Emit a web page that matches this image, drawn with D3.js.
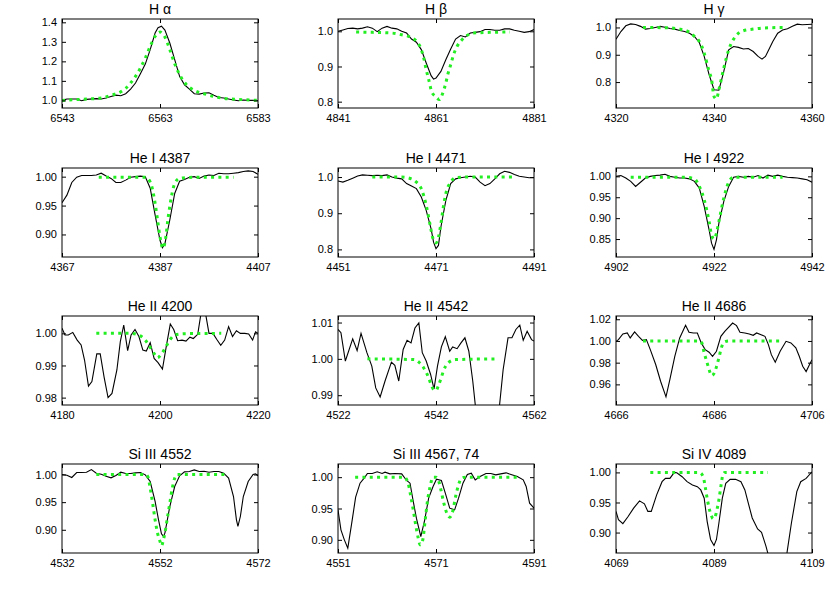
<!DOCTYPE html>
<html>
<head>
<meta charset="utf-8">
<script src="https://cdn.jsdelivr.net/npm/d3@7"></script>
<style>
body { margin: 0; background: #fff; }
text { font-family: "Liberation Sans", Arial, Helvetica, sans-serif; }
</style>
</head>
<body>
<div id="chart"></div>
<script>
// Panel titles and line centres (x axis = centre +/- 20 A)
var titles = ["H \u03b1", "H \u03b2", "H \u03b3",
              "He I 4387", "He I 4471", "He I 4922",
              "He II 4200", "He II 4542", "He II 4686",
              "Si III 4552", "Si III 4567, 74", "Si IV 4089"];
var centers = [6563, 4861, 4340, 4387, 4471, 4922, 4200, 4542, 4686, 4552, 4571, 4089];

// y ranges and tick values
var yDomains = [[0.961, 1.417], [0.782, 1.035], [0.705, 1.031],
                [0.861, 1.015], [0.779, 1.025], [0.807, 1.020],
                [0.9777, 1.0054], [0.9873, 1.0118], [0.941, 1.023],
                [0.858, 1.019], [0.879, 1.021], [0.866, 1.014]];
var yTicks = [[1.0, 1.1, 1.2, 1.3, 1.4], [0.8, 0.9, 1.0], [0.8, 0.9, 1.0],
              [0.90, 0.95, 1.00], [0.8, 0.9, 1.0], [0.85, 0.90, 0.95, 1.00],
              [0.98, 0.99, 1.00], [0.99, 1.00, 1.01], [0.96, 0.98, 1.00, 1.02],
              [0.90, 0.95, 1.00], [0.90, 0.95, 1.00], [0.90, 0.95, 1.00]];
var yFormats = [".1f", ".1f", ".1f", ".2f", ".1f", ".2f", ".2f", ".2f", ".2f", ".2f", ".2f", ".2f"];

// observed spectra [wavelength, normalised flux]
var haObs = [[6543,1.0],[6544,1.007],[6546,1.007],[6547,0.998],[6548,1.005],[6550,1.009],[6551,1.007],[6552,1.012],[6553,1.02],[6554,1.027],[6555,1.024],[6556,1.034],[6557,1.058],[6558,1.089],[6559,1.137],[6560,1.186],[6561,1.26],[6562,1.345],[6562.6,1.372],[6563.3,1.38],[6564,1.36],[6565,1.294],[6566,1.209],[6567,1.123],[6568,1.08],[6569,1.058],[6570,1.034],[6571,1.032],[6572,1.038],[6573,1.039],[6574,1.026],[6575,1.015],[6576,1.012],[6577,1.007],[6578,1.002],[6579,0.998],[6580,1.002],[6581,1.0],[6582,1.0],[6583,0.998]];
var hbObs = [[4841,1.0],[4842,1.004],[4843,1.008],[4844,1.009],[4845,1.007],[4846,1.009],[4847,1.013],[4848,1.009],[4849,0.999],[4850,1.009],[4851,1.014],[4852,1.009],[4853,1.007],[4854,1.0],[4855,0.995],[4856,0.978],[4857,0.969],[4858,0.948],[4859,0.91],[4860,0.874],[4860.5,0.864],[4861,0.867],[4862,0.886],[4863,0.919],[4864,0.95],[4865,0.978],[4866,0.988],[4867,0.984],[4868,0.995],[4869,0.997],[4870,0.999],[4871,1.005],[4872,1.005],[4873,1.003],[4874,1.003],[4875,1.007],[4876,1.007],[4877,1.003],[4878,1.0],[4879,0.997],[4880,0.999],[4881,1.005]];
var hgObs = [[4320,0.957],[4321,0.985],[4322,1.006],[4323,1.013],[4324,1.011],[4325,1.004],[4326,0.994],[4327,0.996],[4328,1.0],[4329,1.004],[4330,1.001],[4331,0.996],[4332,0.994],[4333,0.989],[4334,0.985],[4335,0.979],[4336,0.967],[4337,0.945],[4338,0.894],[4339,0.827],[4340,0.772],[4341,0.77],[4342,0.839],[4343,0.918],[4344,0.93],[4345,0.927],[4346,0.921],[4347,0.923],[4348,0.912],[4349,0.894],[4349.8,0.884],[4350.5,0.894],[4351,0.912],[4352,0.949],[4353,0.979],[4354,0.991],[4355,0.995],[4356,1.004],[4357,1.012],[4358,1.01],[4359,1.011],[4360,1.012]];
var he4387Obs = [[4367,0.955],[4368,0.968],[4369,0.99],[4370,0.999],[4371,1.002],[4372,1.002],[4373,1.002],[4374,1.003],[4375,1.006],[4376,1.001],[4377,0.997],[4378,0.99],[4379,0.99],[4380,0.994],[4381,0.999],[4382,1.0],[4383,1.001],[4384,1.0],[4385,0.98],[4386,0.934],[4387,0.89],[4387.5,0.877],[4388,0.884],[4389,0.925],[4390,0.971],[4391,0.992],[4392,0.995],[4393,0.999],[4394,1.0],[4395,0.997],[4396,1.001],[4397,1.003],[4398,1.002],[4399,1.006],[4400,1.005],[4401,1.005],[4402,1.006],[4403,1.007],[4404,1.009],[4405,1.01],[4406,1.009],[4407,1.004]];
var he4471Obs = [[4451,0.989],[4452,0.986],[4453,0.991],[4454,0.997],[4455,1.003],[4456,1.006],[4457,1.005],[4458,1.004],[4459,1.005],[4460,1.004],[4461,1.006],[4462,1.0],[4463,0.997],[4464,0.995],[4465,0.982],[4466,0.975],[4467,0.968],[4468,0.945],[4469,0.908],[4470,0.857],[4470.5,0.82],[4471,0.802],[4471.5,0.811],[4472,0.862],[4473,0.935],[4474,0.982],[4475,0.995],[4476,0.998],[4477,1.0],[4478,1.002],[4479,1.0],[4480,0.986],[4481,0.976],[4482,0.982],[4483,0.995],[4484,1.009],[4485,1.016],[4486,1.013],[4487,1.007],[4488,1.002],[4489,1.0],[4490,0.998],[4491,0.998]];
var he4922Obs = [[4902,1.0],[4903,1.002],[4904,0.996],[4905,0.988],[4906,0.976],[4907,0.986],[4908,0.996],[4909,1.0],[4910,1.002],[4911,1.003],[4912,1.005],[4913,1.0],[4914,0.998],[4915,0.996],[4916,0.996],[4917,0.994],[4918,0.988],[4919,0.972],[4920,0.928],[4921,0.872],[4921.5,0.84],[4922,0.825],[4922.5,0.848],[4923,0.888],[4924,0.94],[4925,0.976],[4926,0.998],[4927,1.0],[4928,0.998],[4929,1.0],[4930,0.998],[4931,1.002],[4932,0.996],[4933,1.003],[4934,1.0],[4935,1.003],[4936,1.0],[4937,0.998],[4938,0.997],[4939,0.996],[4940,0.994],[4941,0.992],[4942,0.986]];
var he4200Obs = [[4180,1.0016],[4180.6,0.9995],[4181.3,0.9995],[4182.2,1.0003],[4183.1,0.9979],[4183.9,0.9964],[4184.6,0.9917],[4185.4,0.9836],[4186.1,0.985],[4187.1,0.9936],[4187.8,0.9936],[4188.6,0.9863],[4189.4,0.98],[4190.2,0.9813],[4191.2,0.9886],[4191.9,0.9974],[4192.6,1.0026],[4193.4,0.9946],[4194.1,0.9995],[4194.9,1.0012],[4195.7,0.999],[4196.5,0.9948],[4197.2,0.9945],[4198,0.9971],[4198.8,0.9922],[4199.6,0.9909],[4200.5,0.9889],[4201.3,0.9961],[4202.1,1.0029],[4202.8,1.0012],[4203.6,0.9977],[4204.5,0.9979],[4205.3,0.9976],[4206.1,0.9988],[4206.8,0.9984],[4207.7,0.9997],[4208.5,1.0075],[4209.2,1.007],[4210,1.0],[4210.8,1.0],[4211.6,0.9981],[4212.4,0.9963],[4213.2,0.9979],[4214,1.0021],[4214.8,0.999],[4215.6,1.0008],[4216.4,1.0],[4217.3,1.0],[4218.1,0.9998],[4218.9,0.9979],[4219.5,1.0005],[4220,1.0]];
var he4542Obs = [[4522,1.0081],[4522.6,1.0072],[4523.5,0.9994],[4525,1.0055],[4525.9,1.0023],[4526.7,1.007],[4527.9,1.0017],[4528.9,0.998],[4529.7,0.992],[4530.6,0.9895],[4531.6,0.9939],[4532.9,0.9991],[4533.6,0.9982],[4534.4,0.9939],[4535.3,1.0026],[4536.1,1.0051],[4536.9,1.0044],[4537.7,1.0085],[4538.5,1.0099],[4539.2,1.0017],[4540,0.9994],[4540.9,0.9957],[4541.6,0.9917],[4542.3,0.998],[4543.1,1.0033],[4543.9,1.0061],[4544.8,1.0021],[4545.4,1.0033],[4546.3,1.0028],[4547.1,1.0044],[4547.9,1.0058],[4548.7,1.0021],[4549.5,0.9939],[4550.2,0.985],[4551,0.975],[4552.5,0.965],[4554,0.975],[4554.8,0.985],[4555.7,0.997],[4556.7,1.0058],[4557.5,1.0058],[4558.3,1.0081],[4559.1,1.0093],[4559.8,1.0051],[4560.6,1.0076],[4561.5,1.0053],[4562,1.0049]];
var he4686Obs = [[4666,0.9997],[4666.5,1.0012],[4667.4,1.0064],[4668.3,1.0074],[4668.9,1.0028],[4669.8,1.0083],[4670.6,1.0043],[4671.4,1.0006],[4672.2,1.0012],[4673,0.992],[4674.1,0.9783],[4675.1,0.9629],[4676.2,0.9485],[4677,0.9645],[4678,0.9859],[4679,1.0028],[4680.2,1.0144],[4680.9,1.008],[4681.8,1.0074],[4682.6,1.0074],[4683.4,0.9982],[4684.2,0.992],[4685,0.9896],[4685.7,0.9859],[4686.5,0.9905],[4687.4,1.0043],[4688.2,1.0089],[4689.8,1.0165],[4690.6,1.0141],[4691.3,1.008],[4692.3,1.0074],[4693.2,1.0064],[4694,1.0052],[4694.7,1.0074],[4695.6,1.0058],[4696.4,1.0043],[4697.1,0.9966],[4697.7,0.9874],[4698.5,0.9804],[4699.5,0.9905],[4700.7,0.9997],[4701.7,0.9982],[4702.7,0.9936],[4703.4,0.9859],[4704.1,0.9767],[4704.8,0.9718],[4705.5,0.9783],[4706,0.9828]];
var si4552Obs = [[4532,1.0],[4533,0.9988],[4534,0.9946],[4535,1.0036],[4536,1.0036],[4537,1.0042],[4538,1.009],[4539,1.0024],[4540,1.0006],[4541,0.997],[4542,0.994],[4543,0.9982],[4544,1.0042],[4545,1.0018],[4546,1.0018],[4547,1.003],[4548,1.0036],[4549,0.9994],[4550,0.9873],[4551,0.9512],[4551.7,0.918],[4552.3,0.8928],[4552.7,0.888],[4553,0.894],[4554,0.942],[4555,0.9783],[4556,0.9976],[4557,1.0048],[4558,1.0054],[4559,1.0084],[4560,1.0054],[4561,1.006],[4562,1.0042],[4563,1.0054],[4564,1.0054],[4565,1.0024],[4566,0.9934],[4567,0.9602],[4567.6,0.918],[4567.9,0.906],[4568.4,0.924],[4569,0.9602],[4570,0.9873],[4571,1.0],[4571.5,1.0012],[4572,0.9976]];
var si4567Obs = [[4551,0.9479],[4551.6,0.916],[4552.3,0.9],[4553,0.8867],[4553.8,0.9266],[4554.6,0.9681],[4555.5,0.9904],[4556.5,1.0],[4557,1.0059],[4558,1.0059],[4559,1.0085],[4560,1.0059],[4560.6,1.008],[4561.6,1.0053],[4562.6,1.0059],[4564,1.0053],[4565,0.9947],[4565.7,0.9904],[4566.3,0.9638],[4567,0.9346],[4567.9,0.9053],[4568.7,0.9319],[4569.5,0.9665],[4570.4,0.9851],[4571.1,0.9968],[4572.1,0.9947],[4572.9,0.9745],[4573.8,0.9505],[4574.8,0.9479],[4575.6,0.9665],[4576.5,0.9904],[4577.4,1.0043],[4578.2,1.0064],[4579,0.9957],[4580,1.0011],[4581.2,1.0059],[4582.2,1.0059],[4583.2,1.0037],[4584.2,1.0053],[4585.3,1.0069],[4586.3,1.0043],[4587.6,1.0011],[4588.8,0.9957],[4589.4,0.9851],[4590.1,0.9585],[4591,0.9505]];
var si4089Obs = [[4069,0.9352],[4069.5,0.9214],[4070.4,0.9148],[4071.4,0.9258],[4072.6,0.9407],[4073.8,0.9527],[4074.8,0.9478],[4075.5,0.9352],[4076.2,0.9352],[4077.3,0.9626],[4078.4,0.9846],[4079.1,0.9901],[4080,0.9901],[4080.9,1.0],[4081.4,0.9995],[4082.5,0.9929],[4083.5,0.9846],[4084.6,0.9791],[4085.6,0.9764],[4086.3,0.9709],[4087,0.9571],[4087.6,0.9187],[4088.3,0.8885],[4089,0.8786],[4089.5,0.8885],[4090,0.9159],[4090.7,0.9571],[4091.4,0.9819],[4092.3,0.9885],[4093.4,0.9885],[4094.5,0.9846],[4095.3,0.9709],[4096,0.9489],[4096.8,0.9242],[4097.9,0.906],[4098.7,0.9005],[4099.6,0.8775],[4100.5,0.85],[4102,0.83],[4103,0.845],[4103.9,0.8665],[4104.8,0.9159],[4105.9,0.9681],[4106.7,0.9846],[4107.8,0.9901],[4109,1.0011]];

// model profiles [wavelength, normalised flux]
var haModel = [[6543,1.0],[6548,1.007],[6551,1.012],[6553,1.026],[6555,1.044],[6556,1.062],[6557,1.089],[6558,1.123],[6559,1.166],[6560,1.217],[6561,1.277],[6562,1.328],[6563,1.35],[6564,1.325],[6565,1.26],[6566,1.188],[6567,1.132],[6568,1.092],[6570,1.051],[6572,1.034],[6574,1.02],[6576,1.01],[6579,1.005],[6583,1.0]];
var hbModel = [[4844.7,0.998],[4848,0.997],[4852,0.995],[4854,0.99],[4856,0.982],[4857,0.972],[4858,0.948],[4858.5,0.924],[4859,0.891],[4859.6,0.858],[4860.1,0.829],[4860.9,0.815],[4861.7,0.806],[4862.4,0.825],[4863,0.853],[4863.4,0.877],[4864,0.905],[4864.6,0.934],[4865.3,0.957],[4866.3,0.976],[4867.3,0.988],[4868.5,0.995],[4872,0.997],[4876.1,0.998]];
var hgModel = [[4325.5,1.0],[4330,0.999],[4333,0.994],[4335,0.982],[4336,0.967],[4337,0.949],[4338,0.906],[4339,0.839],[4339.5,0.809],[4340,0.748],[4340.5,0.738],[4341,0.772],[4342,0.851],[4343,0.918],[4344,0.957],[4345,0.979],[4346,0.988],[4348,0.994],[4350,0.998],[4354,1.0]];
var he4387Model = [[4374.5,0.999],[4384,0.999],[4385,0.991],[4386,0.954],[4386.5,0.925],[4387,0.896],[4387.6,0.876],[4388.2,0.896],[4388.6,0.925],[4389.1,0.954],[4390,0.988],[4391,0.997],[4394,0.999],[4402,0.999]];
var he4471Model = [[4458,1.0],[4464,1.0],[4466,0.995],[4467,0.986],[4468,0.968],[4469,0.922],[4469.5,0.889],[4470,0.853],[4470.5,0.825],[4471,0.818],[4471.5,0.834],[4472,0.871],[4472.5,0.917],[4473,0.954],[4474,0.986],[4475,0.998],[4477,1.0],[4486.5,1.0]];
var he4922Model = [[4905,0.998],[4916,0.998],[4918,0.994],[4919,0.976],[4920,0.944],[4921,0.892],[4921.5,0.86],[4922,0.85],[4922.5,0.864],[4923,0.892],[4924,0.948],[4925,0.986],[4926,0.998],[4936,0.998]];
var he4200Model = [[4187,1.0],[4194,1.0],[4196,0.9992],[4197,0.9979],[4198,0.9956],[4199,0.9933],[4199.5,0.9924],[4200,0.993],[4201,0.9953],[4202,0.9979],[4203,0.9995],[4205,0.9999],[4212.5,1.0]];
var he4542Model = [[4528,1.0],[4537.5,0.9998],[4538.5,0.9991],[4539.5,0.9975],[4540.5,0.9948],[4541,0.9929],[4541.5,0.9916],[4542,0.9913],[4542.5,0.9927],[4543,0.9945],[4543.5,0.9966],[4544.5,0.9989],[4546,0.9998],[4554.5,1.0]];
var he4686Model = [[4671.5,1.0],[4683,1.0],[4683.5,0.9982],[4684,0.989],[4684.5,0.9813],[4685,0.9737],[4685.5,0.9681],[4686,0.97],[4686.5,0.9761],[4687,0.9844],[4687.5,0.9936],[4688,0.9988],[4689,1.0],[4700,1.0]];
var si4552Model = [[4539,1.0],[4549,1.0],[4549.5,0.9964],[4550,0.9753],[4550.5,0.948],[4551,0.918],[4551.5,0.894],[4552,0.879],[4552.3,0.871],[4552.7,0.882],[4553,0.894],[4553.5,0.921],[4554,0.948],[4554.5,0.975],[4555,0.9934],[4555.5,1.0],[4566,1.0]];
var si4567Model = [[4554.5,1.0],[4564.5,1.0],[4565.3,0.9904],[4565.8,0.9718],[4566.3,0.9505],[4566.8,0.9266],[4567.3,0.9053],[4567.8,0.892],[4568.3,0.9],[4568.8,0.9319],[4569.3,0.9638],[4569.8,0.9851],[4570.4,1.0],[4571,1.0],[4571.5,0.9947],[4572,0.9798],[4572.6,0.9585],[4573.2,0.9426],[4573.8,0.9362],[4574.4,0.9452],[4575,0.9691],[4575.6,0.9878],[4576.2,0.9984],[4577,1.0],[4588,1.0]];
var si4089Model = [[4076,1.0],[4086,1.0],[4086.8,0.9929],[4087.2,0.9764],[4087.6,0.9571],[4088,0.9407],[4088.4,0.9297],[4088.8,0.9231],[4089.2,0.9258],[4089.6,0.9379],[4090,0.9544],[4090.4,0.9764],[4090.8,0.9956],[4091.2,1.0],[4100,1.0]];

var observed = [haObs, hbObs, hgObs, he4387Obs, he4471Obs, he4922Obs, he4200Obs, he4542Obs, he4686Obs, si4552Obs, si4567Obs, si4089Obs];
var models = [haModel, hbModel, hgModel, he4387Model, he4471Model, he4922Model, he4200Model, he4542Model, he4686Model, si4552Model, si4567Model, si4089Model];

var svgWidth = 830;
var svgHeight = 593;
var colLeft = [62, 338, 616];
var rowTop = [19, 168, 316, 464];
var pw = 196;
var ph = 89;

var svg = d3.select("#chart")
    .append("svg")
    .attr("width", svgWidth)
    .attr("height", svgHeight);

for (var i = 0; i < titles.length; i++) {
    var c = centers[i];
    var g = svg.append("g")
        .attr("transform", `translate(${colLeft[i % 3]},${rowTop[Math.floor(i / 3)]})`);

    var x = d3.scaleLinear().domain([c - 20, c + 20]).range([0, pw]);
    var y = d3.scaleLinear().domain(yDomains[i]).range([ph, 0]);

    g.append("clipPath").attr("id", "clip" + i)
        .append("rect").attr("width", pw).attr("height", ph);

    var line = d3.line()
        .x(function (d) { return x(d[0]); })
        .y(function (d) { return y(d[1]); });

    var plot = g.append("g").attr("clip-path", `url(#clip${i})`);
    plot.append("path")
        .datum(observed[i])
        .attr("d", line)
        .style("fill", "none")
        .style("stroke", "#000")
        .style("stroke-width", 1.1);
    plot.append("path")
        .datum(models[i])
        .attr("d", line.curve(d3.curveMonotoneX))
        .style("fill", "none")
        .style("stroke", "#22ee22")
        .style("stroke-width", 3)
        .style("stroke-dasharray", "3 4.3");

    // axes: ticks point inwards, mirrored on the opposite side
    var xt = [c - 20, c, c + 20];
    var fmt = d3.format(yFormats[i]);
    var axB = g.append("g").attr("transform", `translate(0,${ph})`)
        .call(d3.axisBottom(x).tickValues(xt).tickSize(-4).tickPadding(6).tickFormat(d3.format("d")));
    var axT = g.append("g")
        .call(d3.axisTop(x).tickValues(xt).tickSize(-4).tickFormat(""));
    var axL = g.append("g")
        .call(d3.axisLeft(y).tickValues(yTicks[i]).tickSize(-4).tickPadding(5).tickFormat(fmt));
    var axR = g.append("g").attr("transform", `translate(${pw},0)`)
        .call(d3.axisRight(y).tickValues(yTicks[i]).tickSize(-4).tickFormat(""));
    [axB, axT, axL, axR].forEach(function (a) {
        a.select(".domain").remove();
        a.selectAll("text").style("font-size", "11px").style("fill", "#000")
            .style("font-family", "'Liberation Sans', Arial, sans-serif");
    });

    g.append("rect")
        .attr("width", pw)
        .attr("height", ph)
        .style("fill", "none")
        .style("stroke", "#000")
        .style("stroke-width", 1);

    g.append("text")
        .attr("x", pw / 2)
        .attr("y", -5)
        .attr("text-anchor", "middle")
        .style("font-size", "14px")
        .text(titles[i]);
}
</script>
</body>
</html>
